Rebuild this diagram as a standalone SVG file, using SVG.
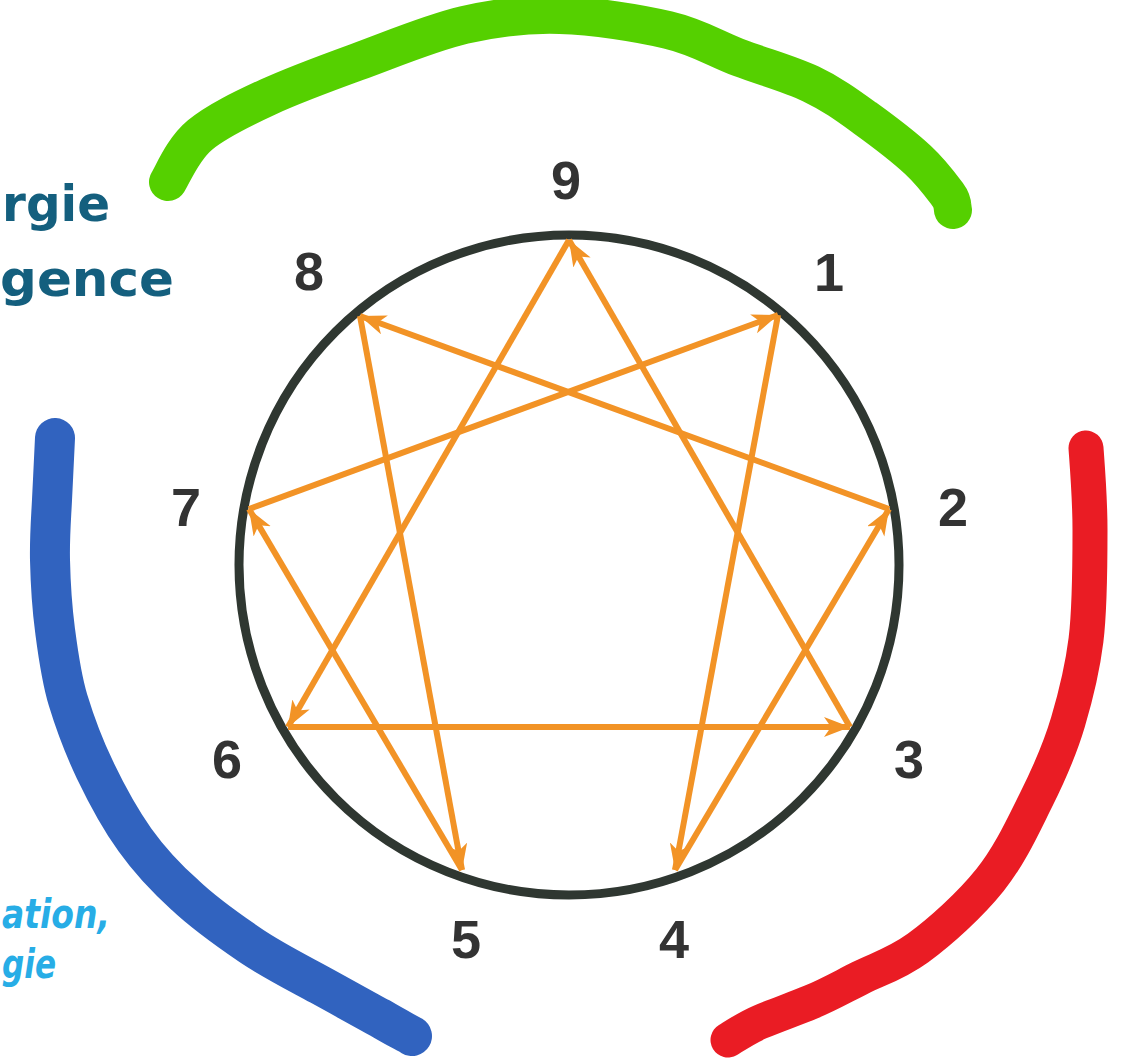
<svg xmlns="http://www.w3.org/2000/svg" width="1122" height="1062" viewBox="0 0 1122 1062">
  <defs>
    <marker id="ah" markerUnits="userSpaceOnUse" markerWidth="30" markerHeight="22" refX="26" refY="10" orient="auto">
      <path d="M0,0 L26,10 L0,20 L7,10 z" fill="#f29326"/>
    </marker>
    <style>
      .hand { fill: none; stroke-linecap: round; stroke-linejoin: round; }
      .edge { stroke: #f29326; stroke-width: 6; fill: none; marker-end: url(#ah); }
      .num { font-family: "Liberation Sans", Arial, sans-serif; font-weight: bold; font-size: 54px; fill: #333333; text-anchor: middle; }
      .teal { font-family: "DejaVu Sans", sans-serif; font-weight: bold; font-size: 50px; fill: #145f7e; }
      .cyan { font-family: "DejaVu Sans", sans-serif; font-weight: bold; font-style: italic; font-size: 40px; fill: #27ade6; }
    </style>
  </defs>
  <rect width="1122" height="1062" fill="#ffffff"/>

  <g id="texts">
    <text class="teal" x="2" y="221" textLength="108" lengthAdjust="spacingAndGlyphs">rgie</text>
    <text class="teal" x="0" y="296" textLength="174" lengthAdjust="spacingAndGlyphs">gence</text>
    <text class="cyan" x="2" y="928" textLength="108" lengthAdjust="spacingAndGlyphs">ation,</text>
    <text class="cyan" x="2" y="978" textLength="54" lengthAdjust="spacingAndGlyphs">gie</text>
  </g>

  <g id="strokes">
    <path id="green" class="hand" stroke="#55d000" stroke-width="38" d="M168,182 C173,174 183,149 200,135 C217,121 242,109 268,97 C294,85 324,74 357,62 C390,50 430,33 464,25 C498,17 526,14 560,15 C594,16 638,23 668,30 C698,37 716,49 740,58 C764,67 790,74 811,84 C832,94 847,105 865,118 C883,131 904,147 918,160 C932,173 942,187 948,195 C954,203 952,208 953,210"/>
    <path id="red" class="hand" stroke="#ea1c24" stroke-width="35" d="M1086,448 C1087,462 1090,498 1090,530 C1090,562 1090,608 1086,640 C1082,672 1076,695 1068,722 C1060,749 1049,774 1036,800 C1023,826 1010,855 990,880 C970,905 940,932 918,948 C896,964 878,969 860,978 C842,987 828,995 811,1002 C794,1009 774,1016 760,1022 C746,1028 733,1037 728,1040"/>
    <path id="blue" class="hand" stroke="#3163bf" stroke-width="40" d="M55,438 C54.5,448 53,480 52,500 C51,520 49.5,538 50,560 C50.5,582 52,607 55,630 C58,653 61,677 68,700 C75,723 84,747 95,770 C106,793 120,819 135,840 C150,861 166,878 185,895 C204,913 228,930 250,945 C272,960 298,973 320,985 C342,997 365,1010 380,1018 C395,1027 407,1033 412,1036"/>
  </g>

  <g id="circle">
    <circle cx="569" cy="565" r="330" fill="none" stroke="#2f3731" stroke-width="9"/>
  </g>

  <g id="connectors">
    <line class="edge" x1="778" y1="315" x2="675" y2="870"/>
    <line class="edge" x1="675" y1="870" x2="889" y2="509"/>
    <line class="edge" x1="889" y1="509" x2="360" y2="316"/>
    <line class="edge" x1="360" y1="316" x2="462" y2="870"/>
    <line class="edge" x1="462" y1="870" x2="249" y2="509"/>
    <line class="edge" x1="249" y1="509" x2="778" y2="315"/>
    <line class="edge" x1="569" y1="240" x2="288" y2="727"/>
    <line class="edge" x1="288" y1="727" x2="850" y2="727"/>
    <line class="edge" x1="850" y1="727" x2="569" y2="240"/>
  </g>

  <g id="node-9"><text class="num" x="566" y="199">9</text></g>
  <g id="node-1"><text class="num" x="829" y="291">1</text></g>
  <g id="node-2"><text class="num" x="953" y="526">2</text></g>
  <g id="node-3"><text class="num" x="909" y="778">3</text></g>
  <g id="node-4"><text class="num" x="674" y="958">4</text></g>
  <g id="node-5"><text class="num" x="466" y="958">5</text></g>
  <g id="node-6"><text class="num" x="227" y="778">6</text></g>
  <g id="node-7"><text class="num" x="186" y="526">7</text></g>
  <g id="node-8"><text class="num" x="309" y="290">8</text></g>
</svg>
